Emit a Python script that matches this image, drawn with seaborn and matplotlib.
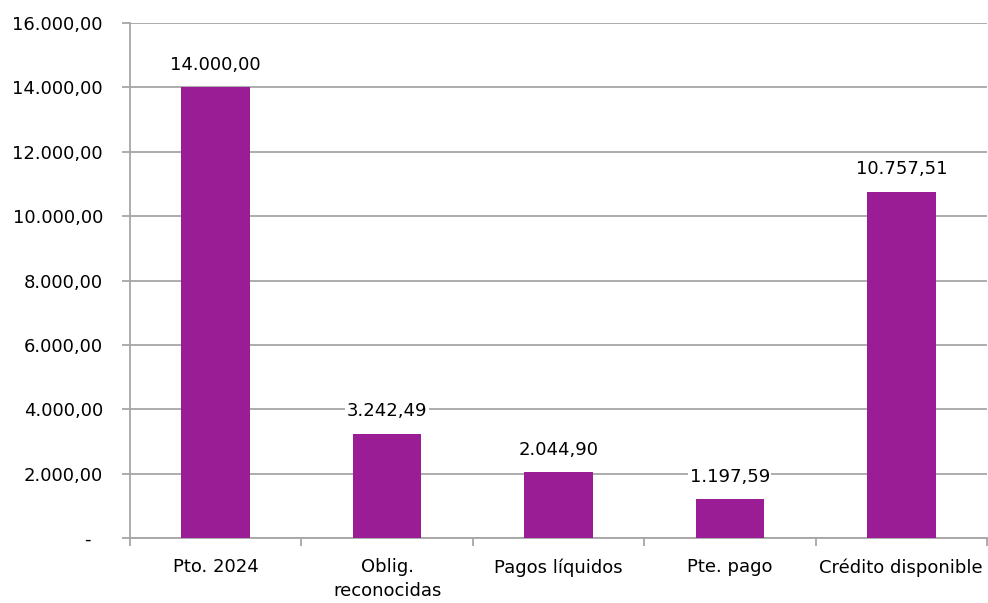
import matplotlib
matplotlib.use("Agg")
import matplotlib.pyplot as plt
import seaborn as sns
import pandas as pd
from matplotlib.ticker import FuncFormatter, FixedLocator

categories = ["Pto. 2024", "Oblig.\nreconocidas", "Pagos líquidos", "Pte. pago", "Crédito disponible"]
values = [14000.00, 3242.49, 2044.90, 1197.59, 10757.51]

def es_fmt(v):
    s = f"{v:,.2f}"
    return s.replace(",", "X").replace(".", ",").replace("X", ".")

sns.set_theme(style="white")
plt.rcParams["font.family"] = ["DejaVu Sans"]

df = pd.DataFrame({"cat": categories, "val": values})
fig = plt.figure(figsize=(9.88, 6.03), dpi=100)
ax = fig.add_axes([130/988, 65/603, 857/988, 515/603])
sns.barplot(data=df, x="cat", y="val", color="#9A1D96", width=0.4, saturation=1,
            linewidth=0, ax=ax, zorder=3)

ax.set_ylim(0, 16000)
ax.set_xlim(-0.5, 4.5)
ax.set_yticks(range(0, 16001, 2000))
ax.yaxis.set_major_formatter(FuncFormatter(lambda v, p: "-  " if v == 0 else es_fmt(v)))
ax.grid(axis="y", color="#A6A6A6", linewidth=1.3, zorder=0)
ax.set_xlabel("")
ax.set_ylabel("")

for sp in ["top", "right"]:
    ax.spines[sp].set_visible(False)
for sp in ["left", "bottom"]:
    ax.spines[sp].set_color("#A6A6A6")
    ax.spines[sp].set_linewidth(1.3)

ax.tick_params(axis="y", which="major", left=True, length=6, width=1.3, color="#A6A6A6",
               labelsize=13, pad=13.5, labelcolor="black")
ax.tick_params(axis="x", which="major", bottom=False, labelsize=13, pad=8.5, labelcolor="black")
for lbl in ax.get_xticklabels():
    lbl.set_linespacing(1.45)
ax.xaxis.set_minor_locator(FixedLocator([-0.5, 0.5, 1.5, 2.5, 3.5, 4.5]))
ax.tick_params(axis="x", which="minor", bottom=True, length=6, width=1.3, color="#A6A6A6")

for i, v in enumerate(values):
    ax.text(i, v + 420, es_fmt(v), ha="center", va="bottom", fontsize=13, color="black",
            zorder=4, bbox=dict(facecolor="white", edgecolor="none", pad=1.0))

fig.savefig("out.png", dpi=100)
